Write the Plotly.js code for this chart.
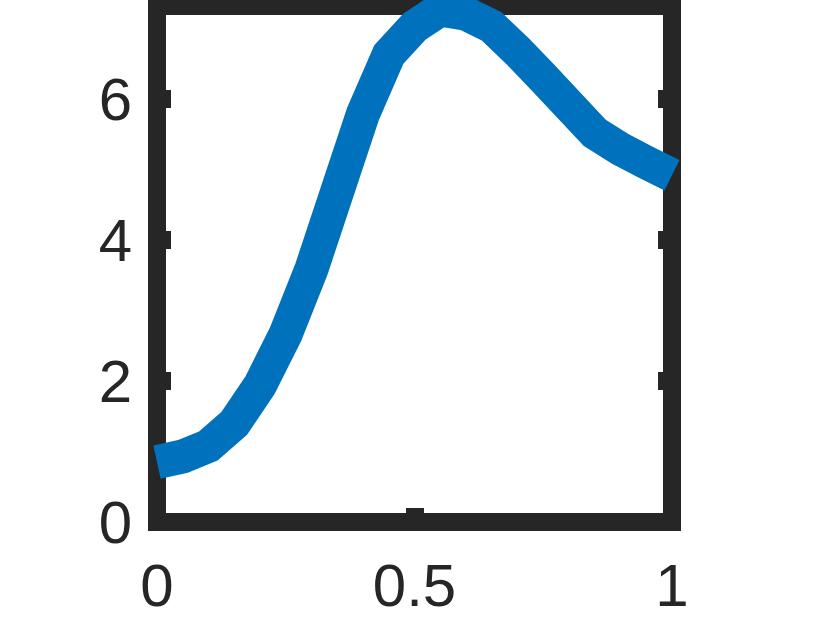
<!DOCTYPE html>
<html>
<head>
<meta charset="utf-8">
<script src="https://cdn.plot.ly/plotly-3.0.1.min.js"></script>
<style>
  html, body { margin: 0; padding: 0; background: #fff; }
  #plot { width: 830px; height: 625px; }
</style>
</head>
<body>
<div id="plot"></div>
<script>
// values
const xValues = [0, 0.05, 0.1, 0.15, 0.2, 0.25, 0.3, 0.35, 0.4, 0.45, 0.5,
                 0.55, 0.6, 0.65, 0.7, 0.75, 0.8, 0.85, 0.9, 0.95, 1.0];
const yValues = [0.85, 0.93, 1.08, 1.40, 1.94, 2.67, 3.59, 4.69, 5.79, 6.63, 7.03,
                 7.27, 7.21, 7.03, 6.68, 6.30, 5.91, 5.52, 5.29, 5.10, 4.92];
const xTicks = [0, 0.5, 1];
const xTickText = ['0', '0.5', '1'];
const yTicks = [0, 2, 4, 6];
const yTickText = ['0', '2', '4', '6'];
const yTop = 7.32;

// frame (pixel layout of the axes box)
const W = 830, H = 625;
const boxL = 157, boxR = 672, boxB = 522, boxT = 6;
const pxPerX = (boxR - boxL) / 1;
const pxPerY = (boxB - boxT) / yTop;

const axisColor = '#262626';
const tickFont = { family: 'Liberation Sans, Arial, sans-serif', size: 60, color: axisColor };

// empty trace so the box subplot (x, y) exists
const boxTrace = { x: [], y: [], type: 'scatter', mode: 'lines', hoverinfo: 'skip' };

const curve = {
    x: xValues, y: yValues,
    xaxis: 'x2', yaxis: 'y2',
    type: 'scatter', mode: 'lines',
    line: { color: '#0072BD', width: 34, simplify: false },
    hoverinfo: 'skip'
};

const layout = {
    width: W, height: H,
    margin: { l: 0, r: 0, t: 0, b: 0, pad: 0 },
    paper_bgcolor: '#ffffff',
    plot_bgcolor: 'rgba(0,0,0,0)',
    showlegend: false,
    // visible box with ticks and labels
    xaxis: {
        domain: [boxL / W, boxR / W],
        range: [0, 1],
        anchor: 'y',
        tickvals: xTicks, ticktext: xTickText,
        ticks: 'inside', ticklen: 14, tickwidth: 18, tickcolor: axisColor,
        mirror: 'ticks', showline: false, showgrid: false, zeroline: false,
        tickfont: tickFont, ticklabelstandoff: 23,
        layer: 'below traces', fixedrange: true
    },
    yaxis: {
        domain: [(H - boxB) / H, (H - boxT) / H],
        range: [0, yTop],
        anchor: 'x',
        tickvals: yTicks, ticktext: yTickText,
        ticks: 'inside', ticklen: 14, tickwidth: 18, tickcolor: axisColor,
        mirror: 'ticks', showline: false, showgrid: false, zeroline: false,
        tickfont: tickFont, ticklabelstandoff: 24,
        layer: 'below traces', fixedrange: true
    },
    // same scale, spread over the whole page so the thick line is not clipped
    xaxis2: {
        domain: [0, 1],
        range: [-boxL / pxPerX, (W - boxL) / pxPerX],
        anchor: 'y2', visible: false, fixedrange: true
    },
    yaxis2: {
        domain: [0, 1],
        range: [-(H - boxB) / pxPerY, boxB / pxPerY],
        anchor: 'x2', visible: false, fixedrange: true
    },
    shapes: [{
        type: 'rect', xref: 'x domain', yref: 'y domain',
        x0: 0, x1: 1, y0: 0, y1: 1,
        line: { color: axisColor, width: 18 },
        fillcolor: 'rgba(0,0,0,0)',
        layer: 'below'
    }]
};

Plotly.newPlot('plot', [boxTrace, curve], layout, { displayModeBar: false, staticPlot: true });
</script>
</body>
</html>
